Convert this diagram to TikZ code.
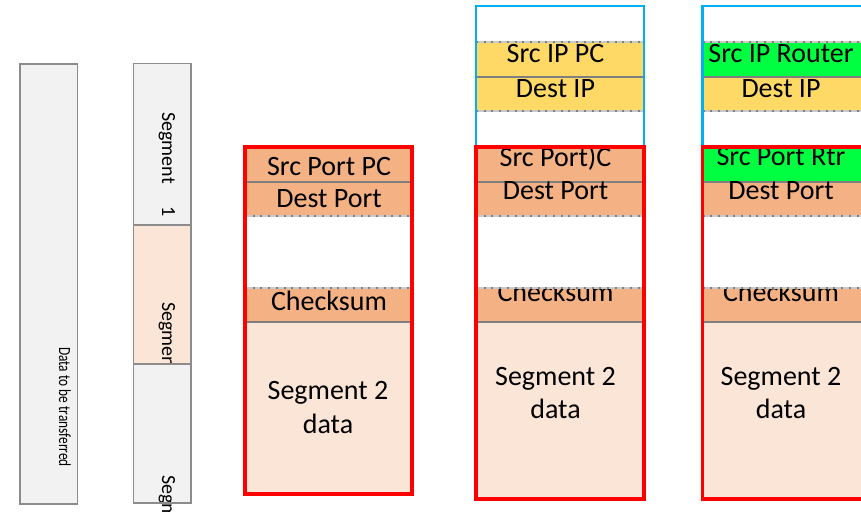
\documentclass[tikz,border=0pt]{standalone}
\usepackage{fontspec}
\setmainfont{Carlito}
\usepackage{graphicx}
\definecolor{peachd}{HTML}{F4B183}
\definecolor{peachl}{HTML}{FBE5D6}
\definecolor{boxgray}{HTML}{F2F2F2}
\definecolor{framegray}{HTML}{8C8C8C}
\definecolor{sepgray}{HTML}{7F7F7F}
\definecolor{dotlight}{HTML}{C8C8C8}
\definecolor{ipyellow}{HTML}{FFD966}
\definecolor{rtrgreen}{HTML}{00FF40}
\definecolor{ipblue}{HTML}{00B0F0}
\definecolor{redf}{HTML}{FF0000}
\tikzset{
  lbl/.style={font=\fontsize{28}{28}\selectfont, inner sep=0pt, anchor=base},
  rot/.style={font=\fontsize{20}{20}\selectfont, inner sep=0pt, rotate=-90, anchor=base west},
  frame/.style={draw=framegray, line width=1.6pt},
  sepline/.style={draw=sepgray, line width=2.4pt},
  dotbase/.style={draw=dotlight, line width=1.2pt},
  dotline/.style={draw=sepgray, line width=1.6pt, dash pattern=on 2pt off 5.7pt},
  redframe/.style={draw=redf, line width=3.4pt},
  blueframe/.style={draw=ipblue, line width=2.2pt},
}
\begin{document}
\begin{tikzpicture}[x=1pt,y=-1pt]
\useasboundingbox (0,0) rectangle (861,511);
\clip (0,0) rectangle (861,511);

% ---------- column 1: whole data ----------
\fill[boxgray] (20,64) rectangle (77.5,504);
\node[rot, font=\fontsize{17}{17}\selectfont] (data) at (59,347) {\scalebox{0.785}[1]{Data to be transferred}};
\draw[frame] (20,64) rectangle (77.5,504);

% ---------- column 2: segments ----------
\fill[boxgray] (133.3,63.3) rectangle (191,225);
\node[rot] (seg1) at (162,112) {Segment\hspace{1.15em}1};
\fill[peachl] (133.3,225) rectangle (191,364);
\node[rot] (seg2) at (162,302) {Segmen};
\fill[boxgray] (133.3,364) rectangle (191,502.7);
\node[rot] (seg3) at (162,475) {Segm};
\draw[frame] (133.3,63.3) rectangle (191,502.7);
\draw[frame] (133.3,225) -- (191,225);
\draw[frame] (133.3,364) -- (191,364);

% ---------- column 3: TCP segment ----------
\fill[peachd] (245,147) rectangle (412,216);
\fill[white] (245,216) rectangle (412,288);
\fill[peachd] (245,288) rectangle (412,322);
\fill[peachl] (245,322) rectangle (412,494);
\draw[sepline] (245,182) -- (412,182);
\draw[sepline] (245,322) -- (412,322);
\draw[dotbase] (245,216) -- (412,216);
\draw[dotline] (245,216) -- (412,216);
\draw[dotbase] (245,288) -- (412,288);
\draw[dotline] (245,288) -- (412,288);
\node[lbl] (c3src) at (329,175) {Src Port PC};
\node[lbl] (c3dst) at (329,207) {Dest Port};
\node[lbl] (c3chk) at (329,310) {Checksum};
\node[lbl] (c3d1) at (328,399) {Segment 2};
\node[lbl] (c3d2) at (328,433) {data};
\draw[redframe] (245,147) rectangle (412,494);

% ---------- column 4: IP packet from PC ----------
\fill[white] (476,6) rectangle (644,42);
\fill[ipyellow] (476,42) rectangle (644,111);
\fill[white] (476,111) rectangle (644,147);
\draw[sepline] (476,77) -- (644,77);
\draw[dotbase] (476,42) -- (644,42);
\draw[dotline] (476,42) -- (644,42);
\draw[dotbase] (476,111) -- (644,111);
\draw[dotline] (476,111) -- (644,111);
\node[lbl] (c4ips) at (555.5,63) {Src IP PC};
\node[lbl] (c4ipd) at (555.5,97) {Dest IP};
\draw[blueframe] (476,6) rectangle (644,147);

\fill[peachd] (476,147) rectangle (644,216);
\fill[peachd] (476,288) rectangle (644,322);
\fill[peachl] (476,322) rectangle (644,499);
\node[lbl] (c4chk) at (555.5,301) {Checksum};
\fill[white] (476,216) rectangle (644,288);
\draw[sepline] (476,182) -- (644,182);
\draw[sepline] (476,322) -- (644,322);
\draw[dotbase] (476,216) -- (644,216);
\draw[dotline] (476,216) -- (644,216);
\draw[dotbase] (476,288) -- (644,288);
\draw[dotline] (476,288) -- (644,288);
\node[lbl] (c4src) at (555.5,166) {Src Port)C};
\node[lbl] (c4dst) at (555.5,199) {Dest Port};
\node[lbl] (c4d1) at (555.5,385) {Segment 2};
\node[lbl] (c4d2) at (555.5,418) {data};
\draw[redframe] (476,147) rectangle (644,499);

% ---------- column 5: IP packet from router ----------
\fill[white] (702.5,6) rectangle (870,42);
\fill[rtrgreen] (702.5,42) rectangle (870,77);
\fill[ipyellow] (702.5,77) rectangle (870,111);
\fill[white] (702.5,111) rectangle (870,147);
\draw[sepline] (702.5,77) -- (870,77);
\draw[dotbase] (702.5,42) -- (870,42);
\draw[dotline] (702.5,42) -- (870,42);
\draw[dotbase] (702.5,111) -- (870,111);
\draw[dotline] (702.5,111) -- (870,111);
\node[lbl] (c5ips) at (781,63) {Src IP Router};
\node[lbl] (c5ipd) at (781,97) {Dest IP};
\draw[blueframe] (702.5,6) rectangle (870,147);

\fill[rtrgreen] (702.5,147) rectangle (870,182);
\fill[peachd] (702.5,182) rectangle (870,216);
\fill[peachd] (702.5,288) rectangle (870,322);
\fill[peachl] (702.5,322) rectangle (870,499);
\node[lbl] (c5chk) at (781,301) {Checksum};
\fill[white] (702.5,216) rectangle (870,288);
\draw[sepline] (702.5,182) -- (870,182);
\draw[sepline] (702.5,322) -- (870,322);
\draw[dotbase] (702.5,216) -- (870,216);
\draw[dotline] (702.5,216) -- (870,216);
\draw[dotbase] (702.5,288) -- (870,288);
\draw[dotline] (702.5,288) -- (870,288);
\node[lbl] (c5src) at (781,165) {Src Port Rtr};
\node[lbl] (c5dst) at (781,199) {Dest Port};
\node[lbl] (c5d1) at (781,385) {Segment 2};
\node[lbl] (c5d2) at (781,418) {data};
\draw[redframe] (702.5,147) rectangle (870,499);
\end{tikzpicture}
\end{document}
